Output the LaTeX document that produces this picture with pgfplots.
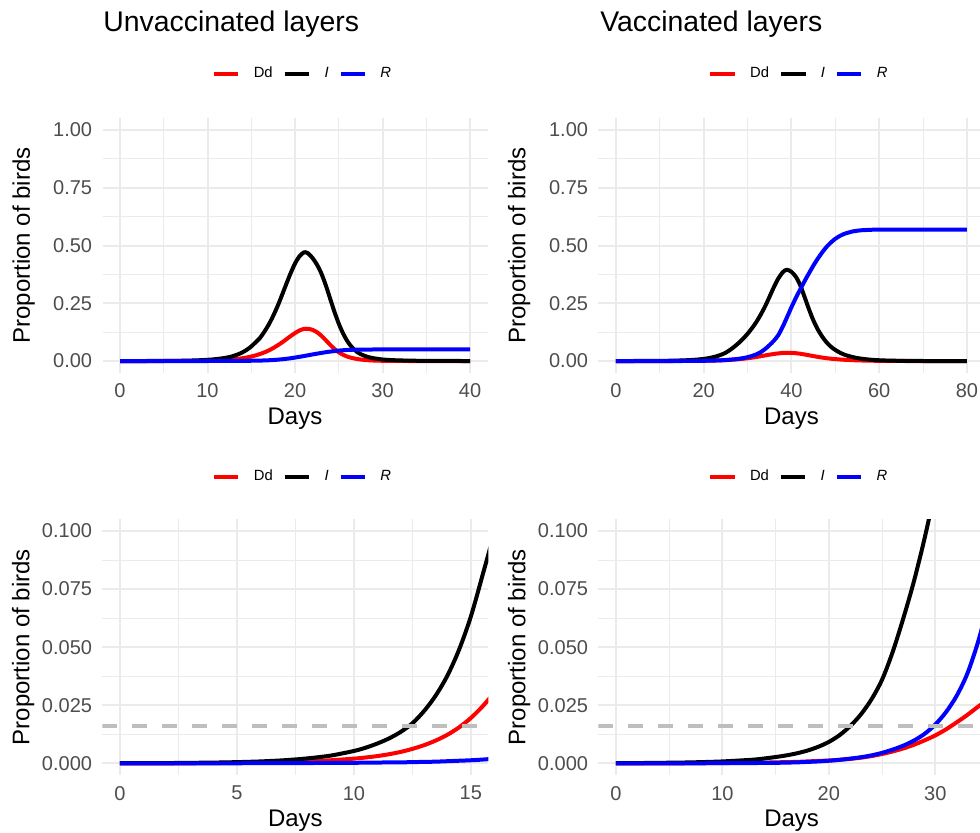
\documentclass[border=0pt]{standalone}
\usepackage{fontspec}
\setmainfont{Liberation Sans}
\usepackage{pgfplots}
\usepackage{pgfplotstable}
\pgfplotsset{compat=1.18}

\definecolor{gridgray}{RGB}{235,235,235}
\definecolor{ticklab}{RGB}{77,77,77}
\definecolor{hlinegray}{RGB}{190,190,190}

% model output, unvaccinated layers
\pgfplotstableread{
t Dd I R
0 0.0000 0.0001 0.0000
1 0.0000 0.0001 0.0000
2 0.0000 0.0001 0.0000
3 0.0000 0.0002 0.0000
4 0.0001 0.0003 0.0000
5 0.0002 0.0005 0.0000
6 0.0003 0.0008 0.0001
7 0.0005 0.0013 0.0001
8 0.0008 0.0021 0.0001
9 0.0013 0.0033 0.0002
10 0.0020 0.0053 0.0002
10.5 0.0025 0.0067 0.0003
11 0.0031 0.0085 0.0003
11.5 0.0039 0.0107 0.0004
12 0.0049 0.0135 0.0004
12.5 0.0062 0.0172 0.0005
13 0.0078 0.0225 0.0006
13.5 0.0098 0.0292 0.0007
14 0.0123 0.0378 0.0009
14.5 0.0155 0.0490 0.0011
15 0.0195 0.0632 0.0013
15.5 0.0245 0.0810 0.0016
16 0.0305 0.1000 0.0020
16.5 0.0375 0.1270 0.0026
17 0.0460 0.1580 0.0034
17.5 0.0560 0.1950 0.0045
18 0.0675 0.2370 0.0058
18.5 0.0800 0.2840 0.0075
19 0.0940 0.3330 0.0096
19.5 0.1080 0.3800 0.0121
20 0.1210 0.4220 0.0150
20.5 0.1320 0.4530 0.0182
21 0.1390 0.4700 0.0215
21.2 0.1398 0.4712 0.0229
21.5 0.1395 0.4660 0.0250
22 0.1350 0.4460 0.0285
22.5 0.1250 0.4180 0.0318
23 0.1100 0.3800 0.0350
23.5 0.0910 0.3300 0.0381
24 0.0710 0.2720 0.0408
24.5 0.0530 0.2140 0.0432
25 0.0380 0.1620 0.0452
25.5 0.0270 0.1190 0.0468
26 0.0190 0.0850 0.0480
26.5 0.0135 0.0600 0.0488
27 0.0095 0.0420 0.0493
27.5 0.0066 0.0300 0.0496
28 0.0046 0.0220 0.0498
28.5 0.0032 0.0160 0.0499
29 0.0022 0.0120 0.0500
30 0.0011 0.0068 0.0500
31 0.0005 0.0042 0.0500
32 0.0003 0.0027 0.0500
33 0.0002 0.0018 0.0500
34 0.0001 0.0012 0.0500
35 0.0001 0.0008 0.0500
36 0.0000 0.0005 0.0500
38 0.0000 0.0003 0.0500
40 0.0000 0.0001 0.0500
}\unvac

% model output, vaccinated layers
\pgfplotstableread{
t Dd I R
0 0.0000 0.0001 0.0000
2 0.0000 0.0001 0.0000
4 0.0000 0.0002 0.0000
6 0.0000 0.0003 0.0000
8 0.0001 0.0005 0.0000
10 0.0001 0.0008 0.0001
12 0.0002 0.0013 0.0001
13 0.0002 0.0016 0.0001
14 0.0003 0.0021 0.0002
15 0.0004 0.0027 0.0002
16 0.0005 0.0034 0.0003
17 0.0006 0.0043 0.0004
18 0.0008 0.0055 0.0006
19 0.0010 0.0071 0.0008
20 0.0012 0.0092 0.0011
21 0.0015 0.0121 0.0015
22 0.0019 0.0160 0.0020
23 0.0024 0.0210 0.0026
24 0.0031 0.0275 0.0034
25 0.0040 0.0360 0.0045
26 0.0051 0.0480 0.0059
27 0.0064 0.0625 0.0076
28 0.0080 0.0785 0.0098
29 0.0099 0.0970 0.0127
30 0.0120 0.1180 0.0167
31 0.0146 0.1420 0.0220
32 0.0176 0.1690 0.0290
33 0.0208 0.2010 0.0385
34 0.0243 0.2370 0.0520
35 0.0276 0.2780 0.0690
36 0.0306 0.3200 0.0880
37 0.0331 0.3570 0.1120
38 0.0350 0.3840 0.1480
38.5 0.0355 0.3920 0.1685
39 0.0358 0.3950 0.1900
39.5 0.0358 0.3920 0.2115
40 0.0355 0.3860 0.2330
41 0.0340 0.3650 0.2730
42 0.0316 0.3280 0.3100
43 0.0285 0.2770 0.3460
44 0.0250 0.2240 0.3800
45 0.0214 0.1760 0.4130
46 0.0180 0.1370 0.4430
47 0.0150 0.1060 0.4700
48 0.0124 0.0810 0.4940
49 0.0102 0.0620 0.5130
50 0.0084 0.0480 0.5290
51 0.0069 0.0370 0.5410
52 0.0056 0.0280 0.5500
53 0.0046 0.0220 0.5560
54 0.0037 0.0170 0.5610
55 0.0030 0.0130 0.5640
56 0.0024 0.0100 0.5660
57 0.0019 0.0077 0.5670
58 0.0015 0.0059 0.5680
59 0.0012 0.0045 0.5685
60 0.0009 0.0034 0.5690
62 0.0005 0.0020 0.5690
64 0.0003 0.0012 0.5690
66 0.0002 0.0007 0.5690
68 0.0001 0.0004 0.5690
70 0.0001 0.0002 0.5690
74 0.0000 0.0001 0.5690
80 0.0000 0.0000 0.5690
}\vac

\pgfplotsset{
  panel/.style={
    scale only axis,
    axis line style={draw=none},
    tick style={draw=none},
    major tick length=0pt,
    minor tick length=0pt,
    grid=both,
    major grid style={gridgray, line width=1pt},
    minor grid style={gridgray, line width=0.5pt},
    /pgf/number format/assume math mode=true,
    ticklabel style={font=\fontsize{10}{12}\selectfont, text=ticklab},
    xticklabel style={inner sep=0pt, yshift=-5.4pt},
    yticklabel style={inner sep=0pt, xshift=-5pt},
    scaled ticks=false,
    label style={font=\fontsize{12}{14}\selectfont},
    xlabel={Days},
    ylabel={Proportion of birds},
    xlabel style={at={(axis description cs:0.5,-0.18)}, anchor=center},
    ylabel style={at={(axis description cs:-0.205,0.5)}, anchor=center},
    every axis title/.style={anchor=base west, inner sep=0pt, font=\fontsize{14.2}{17}\selectfont},
    legend columns=3,
    legend style={draw=none, fill=none, inner sep=0pt,
      font=\fontsize{7.4}{9}\selectfont,
      nodes={inner sep=0pt},
      /tikz/every odd column/.append style={column sep=6.7pt},
      /tikz/every even column/.append style={column sep=5pt}},
    legend image code/.code={\draw[##1] (0pt,0pt) -- (12.2pt,0pt);},
  },
  toprow/.style={
    height=127.1pt,
    ymin=-0.05, ymax=1.05,
    ytick={0,0.25,0.5,0.75,1},
    minor ytick={0.125,0.375,0.625,0.875},
    yticklabel style={/pgf/number format/.cd, fixed, fixed zerofill, precision=2},
    legend style={at={(axis description cs:0.517,1.175)}, anchor=center},
  },
  bottomrow/.style={
    height=127.75pt,
    ymin=-0.005, ymax=0.105,
    ytick={0,0.025,0.05,0.075,0.1},
    minor ytick={0.0125,0.0375,0.0625,0.0875},
    yticklabel style={/pgf/number format/.cd, fixed, fixed zerofill, precision=3},
    legend style={at={(axis description cs:0.516,1.166)}, anchor=center},
  },
  curve/.style={line width=2pt, line join=round, smooth, tension=0.5},
  threshold/.style={hlinegray, line width=1.7pt, dash pattern=on 7.5pt off 7.5pt, forget plot},
}

\begin{document}
\begin{tikzpicture}
\useasboundingbox (0,0) rectangle (490pt,416pt);

% top left: unvaccinated, full course
\begin{axis}[panel, toprow,
    at={(51.25pt,229.7pt)}, anchor=south west, width=192.5pt,
    xmin=-2, xmax=42,
    xtick={0,10,20,30,40}, minor xtick={5,15,25,35},
    title={Unvaccinated layers},
    title style={at={(axis description cs:0.0013,1.3417)}},
]
\addplot[curve, red] table[x=t, y=Dd] {\unvac};
\addlegendentry{Dd}
\addplot[curve, black] table[x=t, y=I] {\unvac};
\addlegendentry{\textit{I}}
\addplot[curve, blue] table[x=t, y=R] {\unvac};
\addlegendentry{\textit{R}}
\end{axis}

% top right: vaccinated, full course
\begin{axis}[panel, toprow,
    at={(299.2pt,229.7pt)}, anchor=south west, width=193.05pt,
    xmin=-4, xmax=84,
    xtick={0,20,40,60,80}, minor xtick={10,30,50,70},
    title={Vaccinated layers},
    title style={at={(axis description cs:0.004,1.3417)}},
]
\addplot[curve, red] table[x=t, y=Dd] {\vac};
\addlegendentry{Dd}
\addplot[curve, black] table[x=t, y=I] {\vac};
\addlegendentry{\textit{I}}
\addplot[curve, blue] table[x=t, y=R] {\vac};
\addlegendentry{\textit{R}}
\end{axis}

% bottom left: unvaccinated, early phase
\begin{axis}[panel, bottomrow,
    at={(51.2pt,28.55pt)}, anchor=south west, width=193pt,
    xmin=-0.75, xmax=15.75,
    xtick={0,5,10,15}, minor xtick={2.5,7.5,12.5},
]
\addplot[curve, red] table[x=t, y=Dd] {\unvac};
\addlegendentry{Dd}
\addplot[curve, black] table[x=t, y=I] {\unvac};
\addlegendentry{\textit{I}}
\addplot[curve, blue] table[x=t, y=R] {\unvac};
\addlegendentry{\textit{R}}
\addplot[threshold] coordinates {(-0.75,0.016) (15.75,0.016)};
\end{axis}

% bottom right: vaccinated, early phase
\begin{axis}[panel, bottomrow,
    at={(299.2pt,28.55pt)}, anchor=south west, width=193.2pt,
    xmin=-1.65, xmax=34.65,
    xtick={0,10,20,30}, minor xtick={5,15,25},
]
\addplot[curve, red] table[x=t, y=Dd] {\vac};
\addlegendentry{Dd}
\addplot[curve, black] table[x=t, y=I] {\vac};
\addlegendentry{\textit{I}}
\addplot[curve, blue] table[x=t, y=R] {\vac};
\addlegendentry{\textit{R}}
\addplot[threshold] coordinates {(-1.65,0.016) (34.65,0.016)};
\end{axis}
\end{tikzpicture}
\end{document}
